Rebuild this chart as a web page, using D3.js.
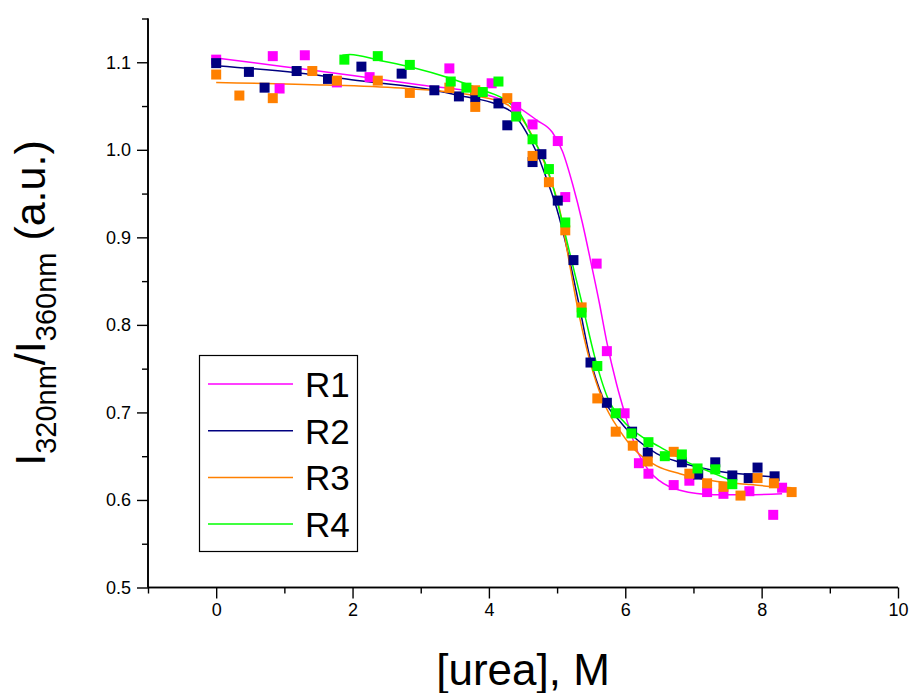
<!DOCTYPE html>
<html>
<head>
<meta charset="utf-8">
<script src="https://cdn.jsdelivr.net/npm/d3@7"></script>
<style>
  body { margin: 0; background: #fff; }
  svg { font-family: Arial, "Liberation Sans", sans-serif; }
</style>
</head>
<body>
<svg id="chart" width="912" height="693"></svg>
<script>
"use strict";

// series names and colours
var seriesNames = ["R1", "R2", "R3", "R4"];
var seriesColors = ["#ff00ff", "#000080", "#ff8000", "#00ff00"];

// measured points [urea M, ratio]
var r1Points = [[0, 1.103], [0.83, 1.107], [0.93, 1.070], [1.30, 1.108], [1.77, 1.077],
    [2.25, 1.083], [3.42, 1.093], [4.04, 1.076], [4.40, 1.049], [4.64, 1.029], [5.01, 1.010],
    [5.12, 0.946], [5.58, 0.870], [5.73, 0.770], [5.99, 0.699], [6.20, 0.642], [6.34, 0.630],
    [6.71, 0.617], [6.94, 0.622], [7.20, 0.609], [7.44, 0.607], [7.82, 0.610], [8.17, 0.583],
    [8.30, 0.614]];
var r2Points = [[0, 1.099], [0.48, 1.089], [0.71, 1.071], [1.18, 1.090], [1.64, 1.081],
    [2.13, 1.095], [2.72, 1.087], [3.20, 1.068], [3.56, 1.061], [3.80, 1.060], [4.14, 1.053],
    [4.27, 1.028], [4.64, 0.986], [4.77, 0.995], [5.01, 0.942], [5.24, 0.874], [5.49, 0.757],
    [5.73, 0.711], [6.10, 0.678], [6.33, 0.654], [6.83, 0.643], [7.07, 0.629], [7.32, 0.643],
    [7.57, 0.628], [7.81, 0.625], [7.94, 0.637], [8.19, 0.627]];
var r3Points = [[0, 1.086], [0.34, 1.062], [0.83, 1.059], [1.41, 1.090], [1.77, 1.079],
    [2.37, 1.079], [2.84, 1.065], [3.42, 1.071], [3.80, 1.068], [3.80, 1.049], [4.27, 1.059],
    [4.64, 0.993], [4.88, 0.963], [5.12, 0.908], [5.36, 0.820], [5.59, 0.716], [5.86, 0.678],
    [6.11, 0.662], [6.33, 0.644], [6.71, 0.655], [6.94, 0.630], [7.20, 0.619], [7.44, 0.615],
    [7.69, 0.605], [7.94, 0.625], [8.18, 0.619], [8.44, 0.609]];
var r4Points = [[1.88, 1.103], [2.37, 1.107], [2.84, 1.097], [3.44, 1.078], [3.67, 1.071],
    [3.91, 1.066], [4.14, 1.078], [4.40, 1.038], [4.64, 1.012], [4.88, 0.978], [5.12, 0.917],
    [5.36, 0.814], [5.59, 0.753], [5.86, 0.699], [6.09, 0.676], [6.34, 0.666], [6.58, 0.650],
    [6.83, 0.652], [7.06, 0.636], [7.32, 0.635], [7.57, 0.618]];

// fitted curves
var r1Fit = [[0, 1.105], [1, 1.095], [2, 1.085], [3, 1.074], [4, 1.062], [4.4, 1.050],
    [4.7, 1.034], [4.93, 1.020], [5.08, 0.998], [5.23, 0.960], [5.37, 0.917], [5.5, 0.870],
    [5.62, 0.825], [5.73, 0.780], [5.87, 0.733], [6.0, 0.697], [6.1, 0.672], [6.2, 0.652],
    [6.35, 0.633], [6.5, 0.622], [6.8, 0.611], [7.3, 0.606], [7.8, 0.606], [8.3, 0.607]];
var r2Fit = [[0, 1.096], [1.18, 1.088], [2.2, 1.078], [3.2, 1.068], [3.56, 1.062],
    [4.14, 1.051], [4.35, 1.042], [4.55, 1.020], [4.70, 0.997], [4.85, 0.966], [4.99, 0.934],
    [5.14, 0.889], [5.33, 0.820], [5.48, 0.763], [5.67, 0.717], [5.92, 0.690], [6.17, 0.669],
    [6.46, 0.653], [6.80, 0.643], [7.28, 0.634], [7.78, 0.629], [8.22, 0.626]];
var r3Fit = [[0, 1.077], [1.62, 1.074], [2.79, 1.070], [3.77, 1.062], [4.26, 1.052],
    [4.55, 1.028], [4.74, 0.999], [4.89, 0.969], [5.04, 0.931], [5.15, 0.884], [5.30, 0.820],
    [5.48, 0.759], [5.67, 0.714], [5.92, 0.679], [6.13, 0.658], [6.46, 0.639], [6.80, 0.630],
    [7.28, 0.622], [7.78, 0.618], [8.22, 0.615], [8.44, 0.614]];
var r4Fit = [[1.85, 1.108], [1.96, 1.109], [2.4, 1.102], [2.88, 1.094], [3.42, 1.082],
    [3.91, 1.068], [4.26, 1.056], [4.45, 1.042], [4.64, 1.014], [4.85, 0.980], [4.99, 0.944],
    [5.18, 0.884], [5.38, 0.820], [5.55, 0.764], [5.74, 0.717], [5.96, 0.691], [6.21, 0.674],
    [6.50, 0.661], [6.94, 0.642], [7.28, 0.631], [7.56, 0.622]];

var allPoints = [r1Points, r2Points, r3Points, r4Points];
var allFits = [r1Fit, r2Fit, r3Fit, r4Fit];

// axes
var xMajor = [0, 2, 4, 6, 8, 10];
var xMinor = [-1, 1, 3, 5, 7, 9];
var yMajor = [0.5, 0.6, 0.7, 0.8, 0.9, 1.0, 1.1];
var yMinor = [0.55, 0.65, 0.75, 0.85, 0.95, 1.05, 1.15];


var svg = d3.select("#chart");

var x = d3.scaleLinear().domain([-1, 10]).range([148, 898]);
var y = d3.scaleLinear().domain([0.5, 1.15]).range([587.5, 18.5]);

// fit lines first, squares on top
var line = d3.line()
    .x(function(d) { return x(d[0]); })
    .y(function(d) { return y(d[1]); })
    .curve(d3.curveMonotoneX);

allFits.forEach(function(fit, i) {
    svg.append("path")
        .datum(fit)
        .attr("d", line)
        .attr("fill", "none")
        .attr("stroke", seriesColors[i])
        .attr("stroke-width", 1.5);
});

var size = 10;
allPoints.forEach(function(pts, i) {
    svg.append("g")
        .selectAll("rect")
        .data(pts)
        .enter()
        .append("rect")
        .attr("x", function(d) { return x(d[0]) - size / 2; })
        .attr("y", function(d) { return y(d[1]) - size / 2; })
        .attr("width", size)
        .attr("height", size)
        .attr("fill", seriesColors[i]);
});

// x axis
var xAxis = svg.append("g").attr("transform", "translate(0," + y(0.5) + ")");
xAxis.call(d3.axisBottom(x).tickValues(xMajor).tickSize(11).tickPadding(5)
    .tickFormat(d3.format("d")));
xAxis.append("g").call(d3.axisBottom(x).tickValues(xMinor).tickSize(6).tickFormat(""));

// y axis
var yAxis = svg.append("g").attr("transform", "translate(" + x(-1) + ",0)");
yAxis.call(d3.axisLeft(y).tickValues(yMajor).tickSize(11).tickPadding(6)
    .tickFormat(d3.format(".1f")));
yAxis.append("g").call(d3.axisLeft(y).tickValues(yMinor).tickSize(6).tickFormat(""));

svg.selectAll(".domain").attr("stroke", "#000").attr("stroke-width", 1.6);
svg.selectAll(".tick line").attr("stroke", "#000").attr("stroke-width", 1.4);
svg.selectAll(".tick text").attr("font-size", 18).attr("fill", "#000")
    .attr("font-family", "Arial, 'Liberation Sans', sans-serif");
xAxis.selectAll(".domain").attr("d", "M" + x(-1) + ",0H" + x(10));
yAxis.selectAll(".domain").attr("d", "M0," + y(0.5) + "V" + y(1.15));

// axis titles
svg.append("text")
    .attr("x", 523)
    .attr("y", 685)
    .attr("text-anchor", "middle")
    .attr("font-size", 44)
    .text("[urea], M");

var ylab = svg.append("text")
    .attr("transform", "translate(45,303) rotate(-90)")
    .attr("text-anchor", "middle")
    .attr("font-size", 43);
ylab.append("tspan").text("I");
ylab.append("tspan").attr("font-size", 29).attr("dy", 11).text("320nm");
ylab.append("tspan").attr("dy", -11).text("/I");
ylab.append("tspan").attr("font-size", 29).attr("dy", 11).text("360nm");
ylab.append("tspan").attr("dy", -11).text(" (a.u.)");

// legend
var legend = svg.append("g");
legend.append("rect")
    .attr("x", 199.5).attr("y", 355.5)
    .attr("width", 158).attr("height", 196)
    .attr("fill", "#fff").attr("stroke", "#000").attr("stroke-width", 1.2);

seriesNames.forEach(function(name, i) {
    var ly = 384 + i * 46.7;
    legend.append("line")
        .attr("x1", 208).attr("x2", 293)
        .attr("y1", ly).attr("y2", ly)
        .attr("stroke", seriesColors[i]).attr("stroke-width", 1.5);
    legend.append("text")
        .attr("x", 305).attr("y", ly + 13)
        .attr("font-size", 35)
        .text(name);
});
</script>
</body>
</html>
